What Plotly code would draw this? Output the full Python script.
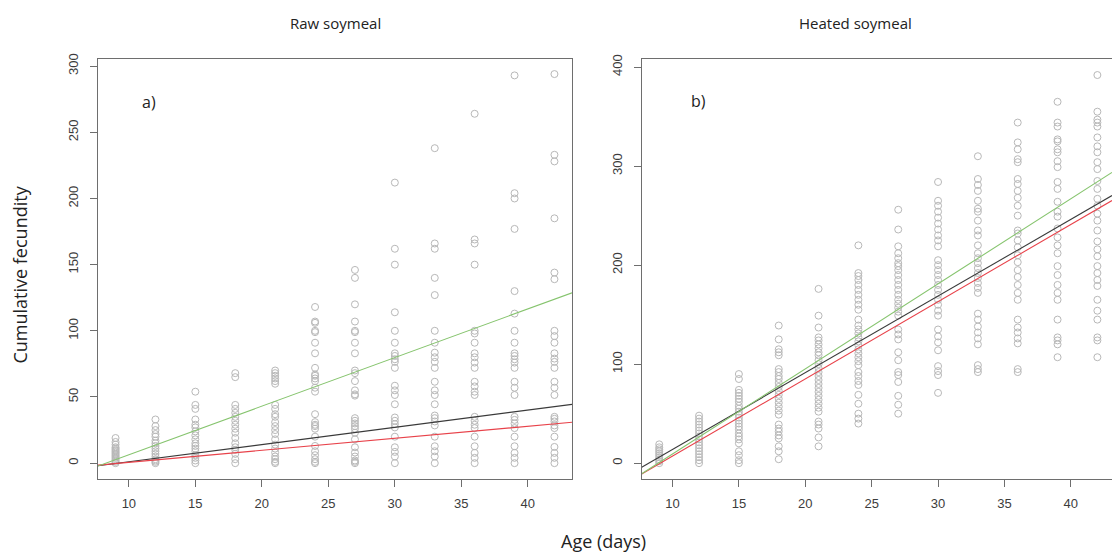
import plotly.graph_objects as go

# ---------------- data ----------------
ages = [9, 12, 15, 18, 21, 24, 27, 30, 33, 36, 39, 42]

raw_values = [
    [0, 1, 2, 3, 4, 5, 6, 7, 8, 9, 10, 11, 12, 14, 16, 19],
    [0, 1, 2, 3, 5, 7, 9, 11, 13, 15, 17, 20, 22, 25, 28, 33],
    [0, 2, 4, 6, 9, 11, 13, 15, 18, 21, 24, 27, 29, 33, 41, 44, 54],
    [0, 3, 7, 10, 12, 15, 19, 23, 26, 29, 32, 35, 38, 41, 44, 65, 68],
    [0, 1, 3, 5, 8, 11, 14, 18, 22, 25, 28, 31, 35, 37, 41, 44, 60, 62, 64, 66, 68, 70],
    [0, 1, 3, 6, 9, 13, 20, 26, 28, 29, 31, 37, 54, 57, 62, 64, 66, 67, 72, 83, 91, 99, 100, 106, 107, 118],
    [0, 1, 2, 5, 8, 12, 18, 23, 26, 28, 30, 32, 34, 51, 52, 55, 62, 68, 70, 83, 91, 99, 100, 107, 120, 140, 146],
    [0, 5, 8.5, 12, 20, 27, 29.5, 32, 34.5, 44.5, 51.5, 55, 58.5, 72, 76.5, 78.5, 81, 83, 91, 100, 114, 150, 162, 212],
    [0, 5, 9, 12.75, 20, 28.5, 31.5, 34, 36, 44.5, 51.5, 55, 61.5, 72, 76.5, 80, 83.5, 91, 100, 127, 140, 162, 166, 238],
    [0, 4, 7.75, 12.75, 20, 26.5, 29, 32, 35, 51.5, 54, 58, 61.5, 72, 76, 80, 83, 91, 98, 100, 150, 166, 169, 264],
    [0, 4, 7.75, 12.75, 20, 26.5, 30, 32.7, 35, 51.5, 57, 61.5, 72, 76, 78.5, 81, 83, 91, 100, 113, 130, 177, 200, 204, 293],
    [0, 4, 7.75, 12.25, 20, 26.5, 28.5, 31.5, 33.5, 35, 51.5, 57, 61.5, 72, 76.5, 79, 83, 91, 96, 100, 139, 144, 185, 228, 233, 294],
]

heated_values = [
    [0, 2, 4, 6, 8, 10, 12, 14, 16, 19],
    [0, 3, 6, 9, 12, 15, 18, 21, 24, 27, 30, 33, 36, 39, 42, 45, 48],
    [0, 3, 8, 12, 20, 24, 27, 30, 34, 37, 40, 43, 46, 49, 52, 55, 58, 62, 65, 68, 71, 74, 85, 90],
    [4, 12, 17, 25, 28, 32, 35, 39, 49, 53, 57, 61, 65, 69, 73, 77, 81, 85, 88, 92, 95, 109, 112, 115, 125, 139],
    [17, 26, 35, 39, 42, 52, 56, 60, 64, 68, 72, 76, 80, 84, 88, 92, 96, 100, 104, 109, 112, 116, 120, 124, 127, 137, 149, 176],
    [40, 45, 50, 60, 69, 79, 83, 88, 92, 99, 103, 107, 111, 115, 119, 123, 127, 131, 135, 139, 145, 155, 160, 165, 170, 175, 180, 185, 189, 192, 220],
    [50, 59, 68, 82, 89, 92, 104, 112, 125, 130, 135, 149, 153, 157, 161, 165, 170, 175, 180, 185, 190, 195, 199, 202, 207, 212, 219, 236, 256],
    [71, 89, 93, 98, 114, 122, 128, 135, 149, 154, 160, 165, 170, 175, 180, 185, 190, 195, 200, 205, 219, 225, 230, 236, 242, 248, 254, 260, 265, 284],
    [92, 95, 99, 120, 126, 132, 138, 145, 151, 172, 177, 182, 187, 192, 197, 202, 207, 212, 220, 230, 235, 245, 254, 257, 265, 275, 281, 287, 310],
    [92, 95, 121, 126, 132, 137, 145, 165, 172, 180, 188, 195, 203, 210, 218, 225, 232, 235, 250, 260, 268, 275, 282, 287, 304, 307, 317, 324, 344],
    [107, 120, 124, 127, 145, 165, 172, 180, 190, 199, 212, 220, 228, 237, 249, 254, 264, 277, 284, 299, 305, 314, 317, 325, 327, 340, 344, 365],
    [107, 124, 127, 145, 154, 165, 179, 185, 192, 199, 209, 216, 224, 235, 245, 252, 260, 267, 277, 285, 297, 304, 314, 320, 329, 340, 344, 347, 355, 392],
]

# regression lines: (intercept, slope)
line_names = ["black", "red", "green"]
raw_intercepts = [-12.0, -8.5, -30.4]
raw_slopes = [1.302, 0.909, 3.673]
heated_intercepts = [-63.5, -70.9, -76.7]
heated_slopes = [7.744, 7.80, 8.594]
line_colors = ["#3a3a3a", "#e8424a", "#86c46e"]

panel_titles = ["Raw soymeal", "Heated soymeal"]
panel_tags = ["a)", "b)"]
x_title = "Age (days)"
y_title = "Cumulative fecundity"

# ---------------- figure ----------------
W, H = 1112, 557
fig = go.Figure()

x_range_left = [7.68, 43.32]
x_range_right = [7.68, 43.1]


def expand(ages, vals):
    xs, ys = [], []
    for a, vs in zip(ages, vals):
        for v in vs:
            xs.append(a)
            ys.append(v)
    return xs, ys


pt_color = "#b8b8b8"
for (vals, xa, ya) in [(raw_values, "x", "y"), (heated_values, "x2", "y2")]:
    xs, ys = expand(ages, vals)
    fig.add_trace(go.Scatter(
        x=xs, y=ys, mode="markers", xaxis=xa, yaxis=ya, showlegend=False,
        marker=dict(symbol="circle-open", size=7, color=pt_color, line=dict(width=1, color=pt_color)),
        cliponaxis=True,
    ))

for ints, slopes, xr, xa, ya in [
    (raw_intercepts, raw_slopes, x_range_left, "x", "y"),
    (heated_intercepts, heated_slopes, x_range_right, "x2", "y2"),
]:
    for b0, b1, col in zip(ints, slopes, line_colors):
        fig.add_trace(go.Scatter(
            x=[xr[0], xr[1]], y=[b0 + b1 * xr[0], b0 + b1 * xr[1]],
            mode="lines", xaxis=xa, yaxis=ya, showlegend=False,
            line=dict(color=col, width=1.1),
        ))

axis_col = "#6e6e6e"
tick_font = dict(family="Liberation Sans, Arial, sans-serif", size=13, color="#3c3c3c")

y_top = 1 - 54 / H
y_bot = 1 - 478 / H

common_x = dict(showgrid=False, zeroline=False, showline=True, linecolor=axis_col, linewidth=1,
                ticks="outside", ticklen=7, tickcolor=axis_col, tickwidth=1,
                tickfont=tick_font, tickmode="array", tickvals=[10, 15, 20, 25, 30, 35, 40],
                mirror=True, fixedrange=True, ticklabelstandoff=6)
common_y = dict(showgrid=False, zeroline=False, showline=True, linecolor=axis_col, linewidth=1,
                ticks="outside", ticklen=7, tickcolor=axis_col, tickwidth=1,
                tickfont=tick_font, tickangle=-90, fixedrange=True, ticklabelstandoff=7)

fig.update_layout(
    width=W, height=H,
    margin=dict(l=0, r=0, t=0, b=0),
    paper_bgcolor="white", plot_bgcolor="white",
    xaxis=dict(domain=[98 / W, 572 / W], range=x_range_left, anchor="y", **common_x),
    yaxis=dict(domain=[y_bot, y_top], range=[-11.76, 305.76], anchor="x",
               tickvals=[0, 50, 100, 150, 200, 250, 300], mirror=True, **common_y),
    xaxis2=dict(domain=[641.7 / W, 1.0], range=x_range_right, anchor="y2", **common_x),
    yaxis2=dict(domain=[y_bot, y_top], range=[-15.7, 408.7], anchor="x2",
                tickvals=[0, 100, 200, 300, 400], mirror=False, **common_y),
)

title_font = dict(family="Open Sans, Noto Sans, sans-serif", size=15, color="#222222")
tag_font = dict(family="Open Sans, Noto Sans, sans-serif", size=16, color="#222222")
axis_title_font = dict(family="Open Sans, Noto Sans, sans-serif", size=18, color="#222222")
ann = []
ann.append(dict(x=335 / W, y=1 - 18 / H, text=panel_titles[0], font=title_font))
ann.append(dict(x=855 / W, y=1 - 18 / H, text=panel_titles[1], font=title_font))
ann.append(dict(x=149 / W, y=1 - 98 / H, text=panel_tags[0], font=tag_font))
ann.append(dict(x=698 / W, y=1 - 97 / H, text=panel_tags[1], font=tag_font))
ann.append(dict(x=603 / W, y=1 - 541 / H, text=x_title, font=axis_title_font))
for a in ann:
    a.update(xref="paper", yref="paper", showarrow=False, xanchor="center", yanchor="middle")
ann.append(dict(x=20 / W, y=1 - 272 / H, text=y_title, xref="paper", yref="paper", showarrow=False,
                xanchor="center", yanchor="middle", textangle=-90, font=axis_title_font))
fig.update_layout(annotations=ann)

fig.write_html("out.html")
